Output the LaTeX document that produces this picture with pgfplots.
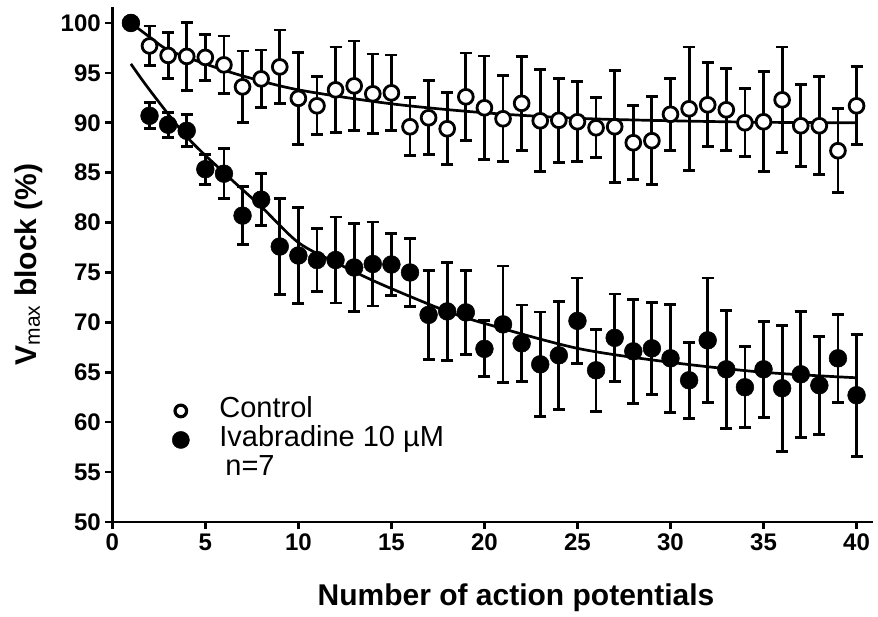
\documentclass[border=0pt]{standalone}
\usepackage{fontspec}
\setmainfont{Liberation Sans}
\usepackage{pgfplots}
\pgfplotsset{compat=1.18}
\usepackage{pgfplotstable}

\pgfplotstableread{
x y e
1 100 0
2 97.7 2.0
3 96.75 2.3
4 96.65 3.4
5 96.55 2.3
6 95.8 2.9
7 93.6 3.6
8 94.4 2.9
9 95.6 3.7
10 92.45 4.6
11 91.7 2.9
12 93.3 4.3
13 93.7 4.5
14 92.9 4.0
15 93.0 3.8
16 89.6 2.9
17 90.5 3.7
18 89.4 3.6
19 92.6 4.4
20 91.5 5.2
21 90.4 4.3
22 91.95 4.7
23 90.2 5.1
24 90.25 4.2
25 90.1 4.0
26 89.5 3.0
27 89.6 5.6
28 88.0 3.7
29 88.2 4.4
30 90.85 3.6
31 91.4 6.2
32 91.8 4.2
33 91.3 4.1
34 90.0 3.4
35 90.1 5.0
36 92.3 5.3
37 89.7 4.1
38 89.7 4.9
39 87.2 4.2
40 91.7 3.9
}\control

\pgfplotstableread{
x y e
1 100 0
2 90.7 1.3
3 89.8 1.25
4 89.2 1.6
5 85.35 1.5
6 84.9 2.5
7 80.7 2.9
8 82.3 2.6
9 77.6 4.8
10 76.7 4.8
11 76.25 3.15
12 76.25 4.3
13 75.5 4.4
14 75.85 4.2
15 75.8 3.1
16 75.0 3.4
17 70.75 4.45
18 71.1 4.9
19 71.0 4.2
20 67.35 2.8
21 69.8 5.85
22 67.9 3.85
23 65.8 5.25
24 66.7 5.4
25 70.15 4.3
26 65.2 4.1
27 68.45 4.4
28 67.1 5.2
29 67.4 4.6
30 66.4 5.4
31 64.2 3.8
32 68.2 6.25
33 65.3 5.9
34 63.5 4.05
35 65.3 4.8
36 63.4 6.3
37 64.8 6.3
38 63.7 4.9
39 66.4 4.4
40 62.7 6.1
}\ivab

\begin{document}
\begin{tikzpicture}
\begin{axis}[
  scale only axis,
  width=761bp, height=515bp,
  xmin=0, xmax=40.9, ymin=50, ymax=101.6,
  clip=false,
  axis x line*=bottom, axis y line*=left,
  axis line style={line width=2.8bp},
  xtick={0,5,...,40}, ytick={50,55,...,100},
  tick align=outside, major tick length=7bp,
  every tick/.style={line width=2.6bp, black},
  /pgf/number format/assume math mode=true,
  tick label style={font=\fontsize{24bp}{28bp}\selectfont\bfseries},
  xticklabel style={yshift=-1bp},
  yticklabel style={xshift=-1bp},
  label style={font=\fontsize{30bp}{34bp}\selectfont\bfseries},
  xlabel={Number of action potentials},
  xlabel style={at={(axis description cs:0.5305,0)}, anchor=base, yshift=-83bp},
  ylabel={V\textsubscript{\normalfont max} block (\%)},
  ylabel style={at={(axis description cs:-0.1104,0.5)}, anchor=center, rotate=0},
  legend cell align=left,
  legend style={draw=none, fill=none, at={(axis cs:3.21,62.6)}, anchor=north west,
    font=\fontsize{29bp}{29bp}\selectfont, inner sep=0pt, row sep=0pt,
    nodes={inner sep=0pt, text height=21bp, text depth=8bp},
    /tikz/every odd column/.append style={column sep=30bp}},
  error bars/y dir=both, error bars/y explicit,
  error bars/error bar style={line width=2.8bp, black},
  error bars/error mark options={rotate=90, mark size=6bp, line width=2.8bp, black},
]
% fitted curves
\addplot[smooth, line width=2.7bp, black, forget plot] coordinates {
 (1,100) (2,98.6) (3,97.3) (5,95.9) (7,94.7) (10,93.3) (15,91.9) (20,91.0) (25,90.45) (30,90.2) (35,90.05) (40,90.0)};
\addplot[smooth, line width=2.7bp, black, forget plot] coordinates {
 (1,95.9) (2,93.3) (4,88.6) (6,85.0) (8,81.6) (10,78.0) (12,76.0) (14,74.2) (16,72.6) (18,71.1) (20,69.9) (25,67.4) (30,66.0) (35,65.0) (40,64.45)};
% data
\addplot[only marks, mark=*, mark size=7.4bp, forget plot,
  mark options={fill=white, draw=black, line width=2.8bp}]
  table[x=x, y=y, y error=e] {\control};
\addplot[only marks, mark=*, mark size=8.9bp, forget plot,
  mark options={fill=black, draw=black, line width=0.5bp}]
  table[x=x, y=y, y error=e] {\ivab};
% legend
\addlegendimage{only marks, mark=*, mark size=5.8bp, mark options={fill=white, draw=black, line width=3.2bp}}
\addlegendentry{Control}
\addlegendimage{only marks, mark=*, mark size=8.6bp, mark options={fill=black, draw=black}}
\addlegendentry{Ivabradine 10 µM}
\addlegendimage{empty legend}
\addlegendentry{\hspace{6bp}n=7}
\end{axis}
\path (rel axis cs:0,0) ++(-112.3bp,-95bp) rectangle ++(878bp,617bp);
\end{tikzpicture}
\end{document}
